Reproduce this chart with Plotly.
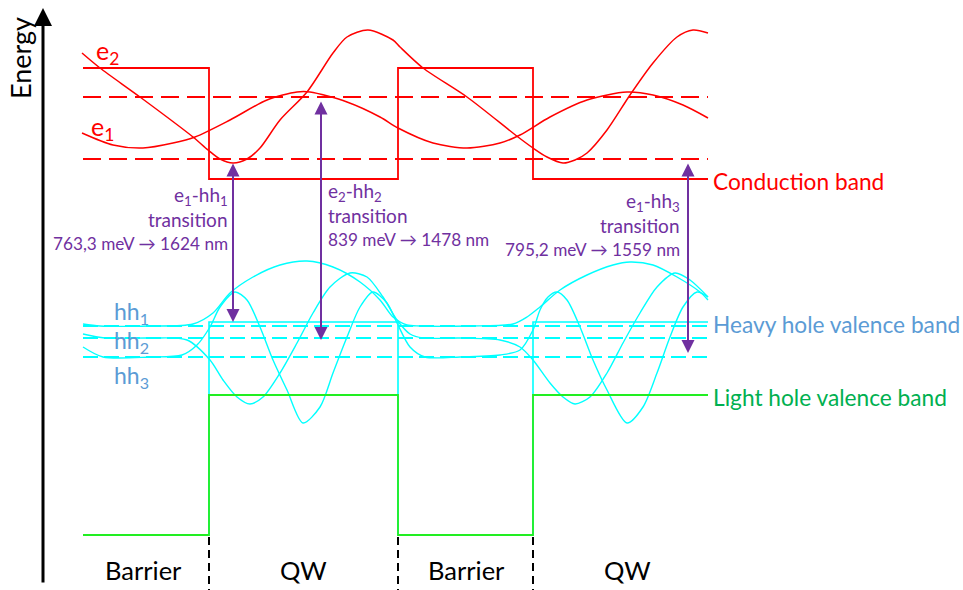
import plotly.graph_objects as go

# ---- data (diagram coordinates: x to the right, y downward, in px units) ----
CB_X = [83, 209, 209, 398, 398, 533, 533, 708]
CB_Y = [68, 68, 179, 179, 68, 68, 179, 179]
E_LEVELS = [97, 159]              # e2, e1 dashed levels
HH_LEVELS = [326, 338, 357]       # hh1, hh2, hh3 dashed levels
HH_X = [83, 209, 209, 398, 398, 533, 533, 708]
HH_Y = [535, 535, 322, 322, 535, 535, 322, 322]
LH_X = [83, 209, 209, 398, 398, 533, 533, 708]
LH_Y = [535, 535, 395, 395, 535, 535, 395, 395]
LINE_X0, LINE_X1 = 83, 708

E2_X = [82, 100, 140, 193, 208, 220, 233, 247, 260, 280, 307, 333, 347, 368, 393, 400, 423, 467, 518, 533, 547, 563, 575, 587, 607, 630, 653, 677, 693, 708]
E2_Y = [53, 68, 97, 137, 150, 159, 163, 159, 148, 120, 92, 53, 37, 30, 40, 47, 68, 97, 137, 148, 157, 163, 160, 153, 130, 95, 63, 37, 30, 33]
E1_X = [82, 113, 143, 173, 195, 230, 267, 297, 310, 347, 380, 398, 433, 467, 500, 520, 550, 587, 627, 653, 683, 708]
E1_Y = [133, 145, 148, 143, 137, 120, 100, 92, 92, 102, 117, 128, 143, 148, 143, 135, 117, 100, 92, 95, 105, 118]

HH1_X = [83, 100, 150, 193, 213, 230, 253, 280, 307, 333, 360, 380, 393, 407, 420, 470, 513, 527, 540, 560, 587, 613, 630, 653, 677, 700, 708]
HH1_Y = [324, 326, 326, 324, 313, 293, 277, 265, 261, 267, 282, 300, 317, 325, 326, 326, 324, 317, 307, 290, 275, 265, 262, 265, 277, 292, 300]
HH2_X = [83, 105, 150, 187, 210, 223, 237, 250, 263, 280, 297, 313, 330, 350, 367, 383, 397, 410, 423, 460, 500, 520, 533, 550, 563, 575, 590, 607, 623, 640, 657, 675, 690, 708]
HH2_Y = [334, 338, 338, 340, 360, 380, 397, 404, 397, 373, 343, 313, 287, 273, 277, 297, 320, 334, 338, 338, 340, 347, 360, 383, 397, 404, 397, 373, 343, 313, 287, 273, 280, 297]
HH3_X = [83, 103, 150, 182, 197, 210, 220, 235, 247, 260, 273, 287, 303, 320, 333, 347, 360, 373, 387, 397, 410, 425, 460, 500, 520, 533, 540, 548, 557, 567, 580, 593, 607, 627, 643, 657, 670, 683, 697, 708]
HH3_Y = [347, 357, 357, 355, 345, 327, 307, 292, 300, 327, 360, 390, 423, 407, 373, 337, 307, 292, 303, 323, 347, 357, 357, 355, 350, 330, 310, 297, 292, 300, 327, 360, 390, 423, 407, 373, 337, 307, 292, 297]

SEP_X = [209, 398, 533]
REGION_X = [143, 303, 466, 627]
REGION_LABELS = ["Barrier", "QW", "Barrier", "QW"]

ARROW_X = [233, 321, 688]
ARROW_TOP = [162, 100, 162]
ARROW_BOTTOM = [322, 340, 353]

TRANS_TITLES = ["e<sub>1</sub>-hh<sub>1</sub>", "e<sub>2</sub>-hh<sub>2</sub>", "e<sub>1</sub>-hh<sub>3</sub>"]
TRANS_VALUES = ["763,3 meV \u2192 1624 nm", "839 meV \u2192 1478 nm", "795,2 meV \u2192 1559 nm"]
TRANS_X = [230, 326, 682]
TRANS_ANCHOR = ["right", "left", "right"]
TRANS_Y0 = [196, 192, 202]

RED = "#ff0000"
CYAN = "#00ffff"
GREEN = "#22ee22"
PURPLE = "#7030a0"
BLUE = "#5b9bd5"
TGREEN = "#00b050"
FONT = "Lato"

fig = go.Figure()

def line(x, y, color, width=1.6, dash=None, spline=False):
    fig.add_trace(go.Scatter(
        x=x, y=y, mode="lines", hoverinfo="skip", showlegend=False,
        line=dict(color=color, width=width, dash=dash,
                  shape="spline" if spline else "linear",
                  smoothing=0.8 if spline else None)))

# conduction band
line(CB_X, CB_Y, RED, 1.8)
for lv in E_LEVELS:
    line([LINE_X0, LINE_X1], [lv, lv], RED, 1.8, dash="18px,8px")
line(E2_X, E2_Y, RED, 1.5, spline=True)
line(E1_X, E1_Y, RED, 1.5, spline=True)

# heavy hole band
line(HH_X, HH_Y, CYAN, 1.6)
for lv in HH_LEVELS:
    line([LINE_X0, LINE_X1], [lv, lv], CYAN, 1.8, dash="15px,6px")
line(HH1_X, HH1_Y, CYAN, 1.4, spline=True)
line(HH2_X, HH2_Y, CYAN, 1.4, spline=True)
line(HH3_X, HH3_Y, CYAN, 1.4, spline=True)

# light hole band
line(LH_X, LH_Y, GREEN, 1.8)

# separators
for sx in SEP_X:
    line([sx, sx], [537, 590], "black", 2, dash="8px,5px")

ann = []
# energy axis
ann.append(dict(x=43, y=8, ax=43, ay=584, xref="x", yref="y", axref="x", ayref="y",
                showarrow=True, arrowhead=2, arrowsize=1.2, arrowwidth=3, arrowcolor="black", text=""))
ann.append(dict(x=20, y=58, text="Energy", textangle=-90, showarrow=False,
                font=dict(family=FONT, size=27, color="black"), xanchor="center", yanchor="middle"))

# transition arrows and labels
for i in range(3):
    ann.append(dict(x=ARROW_X[i], y=ARROW_BOTTOM[i], ax=ARROW_X[i], ay=ARROW_TOP[i],
                    xref="x", yref="y", axref="x", ayref="y", showarrow=True,
                    arrowhead=2, startarrowhead=2, arrowside="end+start",
                    arrowsize=1.3, startarrowsize=1.3, arrowwidth=2, arrowcolor=PURPLE, text=""))
    lines = [TRANS_TITLES[i], "transition", TRANS_VALUES[i]]
    offs = [0, 23, 47]
    for t, o in zip(lines, offs):
        ann.append(dict(x=TRANS_X[i], y=TRANS_Y0[i] + o, text=t, showarrow=False,
                        xanchor=TRANS_ANCHOR[i], yanchor="middle",
                        font=dict(family=FONT, size=17.2 if o == 47 else 19, color=PURPLE)))

# level labels
ann.append(dict(x=107, y=52, text="e<sub>2</sub>", showarrow=False, font=dict(family=FONT, size=25, color=RED)))
ann.append(dict(x=102, y=128, text="e<sub>1</sub>", showarrow=False, font=dict(family=FONT, size=25, color=RED)))
for lab, yy in zip(["hh<sub>1</sub>", "hh<sub>2</sub>", "hh<sub>3</sub>"], [312, 341, 376]):
    ann.append(dict(x=131, y=yy, text=lab, showarrow=False, font=dict(family=FONT, size=23, color=BLUE)))

# band names
for lab, yy, col in [("Conduction band", 181, RED), ("Heavy hole valence band", 324, BLUE),
                     ("Light hole valence band", 397, TGREEN)]:
    ann.append(dict(x=711, y=yy, text=lab, showarrow=False, xanchor="left", yanchor="middle",
                    font=dict(family=FONT, size=22.7, color=col)))

# region labels
for xx, lab in zip(REGION_X, REGION_LABELS):
    ann.append(dict(x=xx, y=570, text=lab, showarrow=False, xanchor="center", yanchor="middle",
                    font=dict(family=FONT, size=25.5, color="black")))

fig.update_layout(
    width=963, height=590, margin=dict(l=0, r=0, t=0, b=0),
    paper_bgcolor="white", plot_bgcolor="white", annotations=ann,
    xaxis=dict(range=[0, 963], visible=False, fixedrange=True),
    yaxis=dict(range=[590, 0], visible=False, fixedrange=True),
)
fig.write_html("out.html", config={"displayModeBar": False, "staticPlot": True},
               post_script="document.body.style.margin='0';document.body.style.overflow='hidden';")
